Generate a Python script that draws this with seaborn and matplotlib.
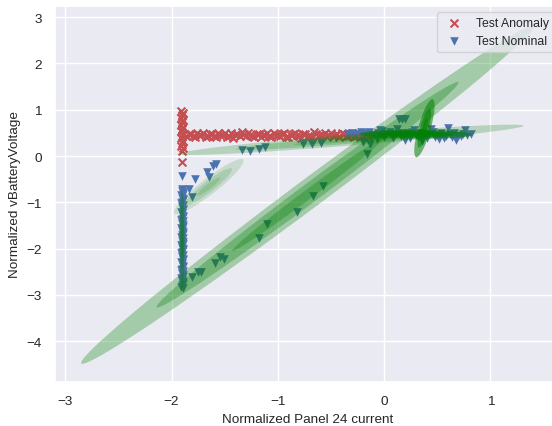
import matplotlib
matplotlib.use("Agg")
import matplotlib.pyplot as plt
from matplotlib.patches import Ellipse
import seaborn as sns
import pandas as pd

# ---------------- data ----------------
# Test anomaly points (red x)
anom_x = [-1.91, -1.89, -1.90, -1.91, -1.89, -1.90, -1.91, -1.89, -1.90, -1.91,
          -1.89, -1.90, -1.91, -1.89, -1.90, -1.91, -1.89, -1.90, -1.90,
          -1.86, -1.82, -1.78, -1.74, -1.70, -1.66, -1.62, -1.58, -1.54, -1.50,
          -1.46, -1.42, -1.38, -1.34, -1.30, -1.26, -1.22, -1.18, -1.14, -1.10,
          -1.06, -1.02, -0.98, -0.94, -0.90, -0.86, -0.82, -0.78, -0.74, -0.70,
          -0.66, -0.62, -0.58, -0.54, -0.50, -0.46, -0.42, -0.38, -0.34, -0.30,
          -0.26, -0.22, -0.18, -0.14, -0.10, -0.06,
          -1.84, -1.80, -1.76, -1.72, -1.68, -1.64, -1.60, -1.56, -1.52, -1.48,
          -1.44, -1.40, -1.36, -1.32, -1.28, -1.24, -1.20, -1.16, -1.12, -1.08,
          -1.04, -1.00, -0.96, -0.92, -0.88, -0.84, -0.80, -0.76, -0.72, -0.68,
          -0.64, -0.60, -0.56, -0.52, -0.48, -0.44, -0.40, -0.36, -0.32, -0.28,
          -0.24, -0.20]
anom_y = [0.97, 0.93, 0.88, 0.83, 0.78, 0.73, 0.68, 0.63, 0.58, 0.53,
          0.48, 0.43, 0.38, 0.33, 0.28, 0.22, 0.17, 0.11, -0.12,
          0.44, 0.48, 0.42, 0.46, 0.50, 0.43, 0.47, 0.41, 0.45, 0.49,
          0.44, 0.40, 0.47, 0.51, 0.43, 0.46, 0.42, 0.48, 0.45, 0.50,
          0.41, 0.46, 0.44, 0.49, 0.42, 0.47, 0.45, 0.40, 0.48, 0.44,
          0.51, 0.43, 0.46, 0.42, 0.49, 0.45, 0.41, 0.47, 0.44, 0.50,
          0.43, 0.46, 0.48, 0.42, 0.45, 0.47,
          0.47, 0.43, 0.49, 0.45, 0.41, 0.48, 0.44, 0.50, 0.46, 0.42,
          0.49, 0.45, 0.43, 0.47, 0.50, 0.44, 0.48, 0.42, 0.46, 0.43,
          0.49, 0.45, 0.47, 0.41, 0.46, 0.50, 0.43, 0.47, 0.44, 0.42,
          0.48, 0.45, 0.49, 0.46, 0.43, 0.48, 0.50, 0.44, 0.46, 0.42,
          0.47, 0.45]

# Test nominal points (blue triangles)
nom_x = [-1.90, -1.89, -1.91, -1.90, -1.89, -1.91, -1.90, -1.89, -1.91, -1.90,
         -1.89, -1.91, -1.90, -1.89, -1.91, -1.90, -1.89, -1.91, -1.90, -1.89,
         -1.91, -1.90, -1.89, -1.91, -1.90, -1.89, -1.91, -1.90, -1.89, -1.91,
         -1.90, -1.89, -1.91, -1.90, -1.89, -1.91,
         -1.905, -1.895, -1.905, -1.895, -1.905, -1.895, -1.905, -1.895, -1.905, -1.895,
         -1.905, -1.895, -1.905, -1.895, -1.905, -1.895, -1.905, -1.895, -1.905, -1.895,
         -1.905, -1.895, -1.905, -1.895, -1.905, -1.895, -1.905, -1.895, -1.905, -1.895,
         -1.905, -1.895, -1.905, -1.895, -1.905,
         -1.90, -1.84, -1.81, -1.78, -1.67, -1.65, -1.61, -1.58,
         -1.34, -1.26, -1.18, -1.12, -0.76, -0.68, -0.59,
         -1.89, -1.81, -1.75, -1.72, -1.59, -1.54, -1.51, -1.18, -1.10,
         -0.82, -0.67, -0.57, -0.16, -0.20, -0.07, -0.13, 0.17, 0.14, 0.20,
         -0.34, -0.30, -0.26, -0.22, -0.18, -0.14, -0.10, -0.06, -0.02, 0.02,
         0.06, 0.10, 0.14, 0.18, 0.22, 0.26, 0.30, 0.34, 0.38, 0.42,
         0.46, 0.50, 0.54, 0.58, 0.62, 0.66, 0.70, 0.74, 0.78, 0.82,
         0.00, 0.08, 0.16, 0.24, 0.32, 0.40, 0.48, 0.56, 0.64, 0.72,
         -0.04, 0.12, 0.28, 0.44, 0.60, 0.76, 0.20, 0.36, 0.52, 0.68]
nom_y = [-0.72, -0.78, -0.84, -0.90, -0.96, -1.02, -1.08, -1.14, -1.20, -1.26,
         -1.32, -1.38, -1.44, -1.50, -1.56, -1.62, -1.68, -1.74, -1.80, -1.86,
         -1.92, -1.98, -2.04, -2.10, -2.16, -2.22, -2.28, -2.34, -2.40, -2.46,
         -2.52, -2.58, -2.64, -2.70, -2.76, -2.82,
         -0.75, -0.81, -0.87, -0.93, -0.99, -1.05, -1.11, -1.17, -1.23, -1.29,
         -1.35, -1.41, -1.47, -1.53, -1.59, -1.65, -1.71, -1.77, -1.83, -1.89,
         -1.95, -2.01, -2.07, -2.13, -2.19, -2.25, -2.31, -2.37, -2.43, -2.49,
         -2.55, -2.61, -2.67, -2.73, -2.79,
         -0.43, -0.71, -0.89, -0.50, -0.35, -0.46, -0.21, -0.17,
         0.12, 0.11, 0.15, 0.20, 0.26, 0.26, 0.28,
         -2.84, -2.62, -2.51, -2.51, -2.30, -2.19, -2.22, -1.76, -1.47,
         -1.21, -0.86, -0.64, 0.04, 0.30, 0.37, 0.26, 0.80, 0.80, 0.81,
         0.48, 0.50, 0.47, 0.52, 0.49, 0.51, 0.46, 0.50, 0.53, 0.48,
         0.51, 0.47, 0.50, 0.45, 0.49, 0.52, 0.46, 0.50, 0.44, 0.48,
         0.51, 0.45, 0.49, 0.43, 0.47, 0.50, 0.44, 0.48, 0.46, 0.47,
         0.42, 0.40, 0.43, 0.39, 0.41, 0.38, 0.42, 0.40, 0.41, 0.43,
         0.57, 0.59, 0.56, 0.58, 0.60, 0.57, 0.34, 0.33, 0.36, 0.35]

# Gaussian mixture components: mean, std along principal axes, angle, drawing alpha
gmm_mean_x = [-0.72, -0.31, -1.65, -1.90, 0.38, 0.30]
gmm_mean_y = [-0.835, 0.35, -0.66, -1.80, 0.60, 0.47]
gmm_sigma_major = [1.408, 0.551, 0.224, 0.35, 0.211, 0.177]
gmm_sigma_minor = [0.065, 0.040, 0.035, 0.008, 0.020, 0.032]
gmm_angle = [59.8, 10.65, 62.1, 90.0, 83.2, -1.0]
gmm_alpha = [0.30, 0.22, 0.15, 0.35, 0.55, 0.60]
n_sigmas = [1, 2, 3]

x_label = "Normalized Panel 24 current"
y_label = "Normalized vBatteryVoltage"
x_ticks = [-3, -2, -1, 0, 1]
y_ticks = [-4, -3, -2, -1, 0, 1, 2, 3]

# ---------------- style ----------------
sns.set_theme(style="darkgrid", color_codes=True)
plt.rcParams['font.family'] = ['Liberation Sans', 'DejaVu Sans']
fs = 9.7
plt.rcParams.update({'font.size': fs, 'axes.labelsize': fs, 'xtick.labelsize': fs,
                     'ytick.labelsize': fs, 'legend.fontsize': 8.8})

fig = plt.figure(figsize=(5.52, 4.27), dpi=100)
ax = fig.add_axes([55 / 552, 44 / 427, 505 / 552, 376 / 427])

df_a = pd.DataFrame({'x': anom_x, 'y': anom_y})
df_n = pd.DataFrame({'x': nom_x, 'y': nom_y})

sns.scatterplot(data=df_a, x='x', y='y', marker='x', color='r', s=32,
                linewidth=1.5, label='Test Anomaly', ax=ax, zorder=2)
sns.scatterplot(data=df_n, x='x', y='y', marker='v', color='b', s=38,
                linewidth=0, label='Test Nominal', ax=ax, zorder=2)

for mx, my, s1, s2, ang, a in zip(gmm_mean_x, gmm_mean_y, gmm_sigma_major,
                                  gmm_sigma_minor, gmm_angle, gmm_alpha):
    for n in n_sigmas:
        ax.add_patch(Ellipse((mx, my), 2 * n * s1, 2 * n * s2, angle=ang,
                             facecolor='green', edgecolor='none', alpha=a, zorder=3))

ax.set_xlim(-3.097, 1.656)
ax.set_ylim(-4.88, 3.24)
ax.set_xticks(x_ticks)
ax.set_yticks(y_ticks)
ax.set_xlabel(x_label)
ax.set_ylabel(y_label)
leg = ax.legend(loc='upper right')
leg.set_zorder(5)

fig.savefig('out.png', dpi=100)
